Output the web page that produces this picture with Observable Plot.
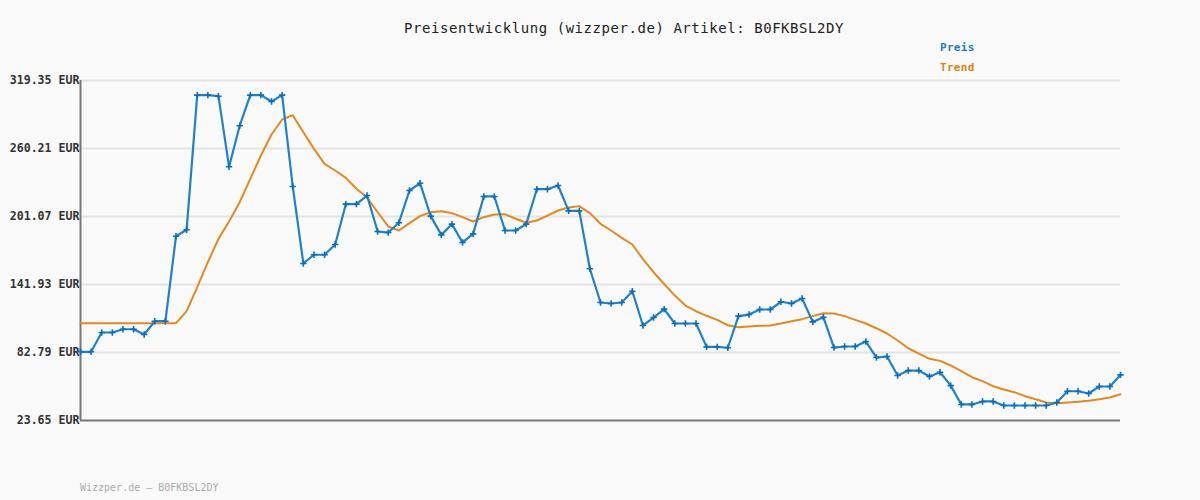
<!DOCTYPE html>
<html>
<head>
<meta charset="utf-8">
<script src="https://cdn.jsdelivr.net/npm/d3@7"></script>
<script src="https://cdn.jsdelivr.net/npm/@observablehq/plot@0.6"></script>
<style>
  html, body { margin: 0; padding: 0; background: #fafafa; }
  #wrap { position: relative; width: 1200px; height: 500px; background: #fafafa; font-family: "DejaVu Sans Mono", monospace; }
  #wrap svg { position: absolute; left: 0; top: 0; }
  .title { position: absolute; top: 20px; left: 0; width: 1248px; text-align: center; font-size: 14px; letter-spacing: 0.55px; color: #222; }
  .leg { position: absolute; left: 940px; font-size: 11px; font-weight: bold; letter-spacing: 0.3px; }
  .foot { position: absolute; left: 80px; top: 482px; font-size: 10px; color: #aaa; }
</style>
</head>
<body>
<div id="wrap">
  <div class="title">Preisentwicklung (wizzper.de) Artikel: B0FKBSL2DY</div>
  <div class="leg" style="top:41px;color:#1a7cc8">Preis</div>
  <div class="leg" style="top:61px;color:#e0800e">Trend</div>
  <div class="foot">Wizzper.de – B0FKBSL2DY</div>
</div>
<script>
const yTicks = [23.65, 82.79, 141.93, 201.07, 260.21, 319.35];
const preis = [
  83.4, 83.4, 100.2, 100.2, 103.0, 103.0, 98.4, 110.0, 110.0, 183.9,
  189.5, 306.6, 306.6, 305.7, 244.3, 280.0, 306.6, 306.6, 301.1, 306.6,
  227.2, 160.2, 167.8, 167.8, 176.7, 211.8, 211.8, 219.3, 188.0, 187.1,
  195.6, 223.7, 230.0, 201.4, 185.1, 194.4, 178.5, 186.0, 218.5, 218.5,
  188.9, 188.9, 194.4, 224.8, 224.8, 228.0, 206.0, 206.0, 155.6, 126.3,
  125.4, 126.3, 136.1, 106.3, 113.2, 120.5, 108.0, 108.0, 108.0, 87.7,
  87.7, 86.9, 114.4, 115.8, 120.2, 120.2, 126.9, 125.4, 129.8, 109.4,
  113.5, 87.1, 88.0, 88.0, 92.4, 78.4, 79.3, 62.8, 67.1, 67.1,
  61.9, 65.6, 54.0, 37.6, 37.6, 40.2, 40.2, 36.7, 36.7, 36.7,
  36.7, 36.7, 39.3, 49.1, 49.1, 47.1, 53.2, 53.2, 63.3
];
const trend = [
  108.3, 108.3, 108.3, 108.3, 108.3, 108.3, 108.3, 108.3, 108.3, 108.3,
  118.7, 139.6, 161.3, 181.6, 196.7, 213.5, 233.8, 254.1, 272.4, 285.4,
  289.2, 274.4, 259.9, 246.9, 241.1, 234.7, 225.2, 217.6, 204.8, 192.4,
  188.9, 195.3, 201.4, 204.8, 205.7, 204.0, 200.5, 196.7, 200.5, 202.8,
  203.1, 199.1, 195.6, 197.6, 201.9, 206.3, 208.9, 210.1, 204.0, 194.7,
  188.9, 182.5, 176.7, 164.0, 152.6, 142.4, 132.3, 123.6, 118.7, 114.7,
  111.2, 106.5, 104.8, 105.4, 106.0, 106.3, 108.0, 110.0, 111.8, 114.4,
  117.0, 116.7, 114.4, 111.2, 108.0, 103.9, 99.3, 93.2, 86.5, 81.9,
  77.3, 75.5, 71.5, 66.5, 61.3, 57.9, 53.5, 50.6, 48.3, 44.8,
  42.2, 39.3, 38.7, 39.3, 39.9, 40.8, 42.2, 43.6, 46.5
];
const dPreis = preis.map((v, i) => ({i, v}));
const dTrend = trend.map((v, i) => ({i, v}));

const chart = Plot.plot({
  width: 1200,
  height: 500,
  marginLeft: 80,
  marginRight: 80,
  marginTop: 80,
  marginBottom: 80,
  style: {background: "transparent", fontFamily: "DejaVu Sans Mono, monospace"},
  x: {domain: [0, preis.length - 1], axis: null},
  y: {domain: [23.65, 319.35], ticks: yTicks, tickFormat: d => d.toFixed(2) + " EUR", label: null, tickSize: 0, tickPadding: 1},
  marks: [
    Plot.ruleY(yTicks.slice(1), {stroke: "#e4e4e4", strokeWidth: 2}),
    Plot.axisY({ticks: yTicks, tickFormat: d => d.toFixed(2) + " EUR", tickSize: 0, tickPadding: 1, fontSize: 11.6, fontWeight: "bold", fill: "#333", label: null, textAnchor: "end"}),
    Plot.ruleX([0], {stroke: "#777", strokeWidth: 2}),
    Plot.ruleY([23.65], {stroke: "#777", strokeWidth: 2}),
    Plot.line(dTrend, {x: "i", y: "v", stroke: "#e5891f", strokeWidth: 2}),
    Plot.line(dPreis, {x: "i", y: "v", stroke: "#1f82cc", strokeWidth: 2.2}),
    Plot.dot(dPreis, {x: "i", y: "v", symbol: "plus", r: 2.2, stroke: "#0a6fbf", strokeWidth: 1.6})
  ]
});
document.getElementById("wrap").prepend(chart);
</script>
</body>
</html>
